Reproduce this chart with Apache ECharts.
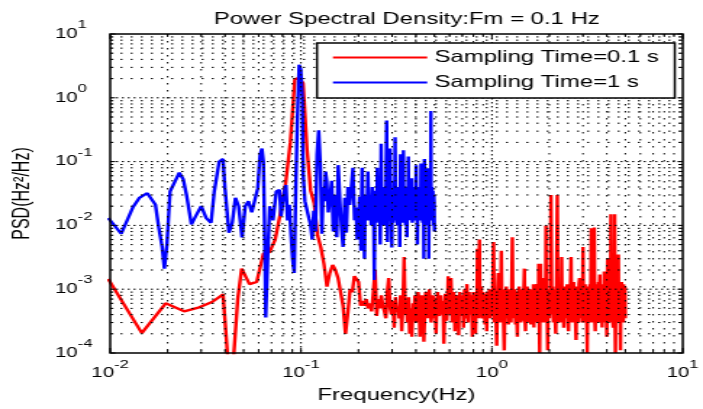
<!DOCTYPE html>
<html><head><meta charset="utf-8">
<script src="https://cdn.jsdelivr.net/npm/echarts@6/dist/echarts.min.js"></script>
<style>
html,body{margin:0;padding:0;background:#fff;overflow:hidden;}
#wrap{width:703px;height:409px;overflow:hidden;position:relative;}
#chart{width:485px;height:409px;transform:scaleX(1.449485);transform-origin:0 0;}
</style></head><body>
<div id="wrap"><div id="chart"></div></div>
<script>
const titleText = 'Power Spectral Density:Fm = 0.1 Hz';
const xName = 'Frequency(Hz)';
const yName = 'PSD(Hz\u00b2/Hz)';
const seriesNames = ['Sampling Time=0.1 s', 'Sampling Time=1 s'];
const xTicks = [0.01, 0.1, 1, 10];
const xTickExp = ['-2', '-1', '0', '1'];
const yTicks = [1e-4, 1e-3, 1e-2, 1e-1, 1, 10];
const yTickExp = ['-4', '-3', '-2', '-1', '0', '1'];
const minorMult = [2, 3, 4, 5, 6, 7, 8, 9];

// Red: sampling time 0.1 s  [frequency Hz, PSD]
const redLow = [[0.00977,1.45e-3],[0.01465,2.05e-4],[0.01953,6e-4],[0.02441,4.5e-4],[0.0293,5.2e-4],[0.03418,6.3e-4],[0.03906,8.3e-4],[0.0415,7e-5],[0.04395,6e-5],[0.0466,7e-4],[0.04883,2.1e-3],[0.05371,1.2e-3],[0.05859,1.3e-3],[0.06348,3.6e-3],[0.06836,3.8e-3],[0.07324,6e-3],[0.07813,1.6e-2],[0.08301,4.5e-2],[0.08789,0.2],[0.09277,1.95],[0.09766,2.05],[0.10254,1.7],[0.10742,0.16],[0.1123,3.5e-2],[0.11719,2.2e-2],[0.12207,7e-3],[0.12695,4.5e-3],[0.13184,2.5e-3],[0.13672,1.1e-3],[0.1416,1.8e-3],[0.14648,2.4e-3],[0.15137,2e-3],[0.15625,1.5e-3],[0.16113,1.4e-3],[0.16602,5.5e-4],[0.1709,2e-4],[0.17578,4.2e-4],[0.18066,1e-3],[0.18555,9e-4],[0.19043,1.6e-3],[0.19531,1.5e-3],[0.2002,1.3e-3],[0.20508,5.5e-4],[0.20996,6.5e-4],[0.21484,5.5e-4],[0.21973,7e-4],[0.22461,5e-4],[0.22949,6e-4],[0.23438,4.5e-4],[0.23926,9e-4],[0.24414,2e-3],[0.24902,3.8e-4],[0.25391,7e-4],[0.25879,5e-4],[0.26367,8e-4],[0.26855,5.5e-4],[0.27344,4.5e-4],[0.27832,3.5e-4],[0.2832,9e-4],[0.28809,1.5e-3],[0.29297,5e-4],[0.29785,4e-4],[0.30273,6.5e-4],[0.30762,2.5e-4],[0.3125,7.5e-4],[0.31738,4.5e-4],[0.32227,5e-4],[0.32715,3.5e-4],[0.33203,8e-4],[0.33691,2.2e-4],[0.3418,5.5e-4],[0.34668,3.2e-3],[0.35156,4e-4],[0.35645,6e-4],[0.36133,3e-4],[0.36621,7.5e-4],[0.37109,2e-4],[0.37598,5e-4],[0.38086,1.8e-4],[0.38574,6e-4],[0.39063,4e-4],[0.39551,8e-4],[0.40039,3e-4]];
const redMid = [[0.41,9e-4],[0.42,1.8e-4],[0.43,8e-4],[0.44,1.5e-4],[0.45,9e-4],[0.46,3.5e-4],[0.47,1e-3],[0.48,3e-4],[0.49,8e-4],[0.5,3.5e-4],[0.51,2e-4],[0.52,9e-4],[0.53,3.8e-4],[0.54,8e-4],[0.55,4e-4],[0.56,1.4e-4],[0.57,8.5e-4],[0.58,3.2e-4],[0.59,1.6e-3],[0.6,4e-4],[0.61,1.5e-3],[0.62,3e-4],[0.63,9e-4],[0.64,2.2e-4],[0.65,8e-4],[0.66,3.5e-4],[0.67,1.9e-4],[0.68,9e-4],[0.69,3.8e-4],[0.7,8e-4],[0.71,2.5e-4],[0.72,1e-3],[0.73,3.5e-4],[0.74,1.2e-3],[0.75,3e-4],[0.76,9e-4],[0.77,4e-4],[0.78,8e-4],[0.79,1.8e-4],[0.8,9e-4],[0.81,3.5e-4],[0.82,2e-4],[0.83,8e-4],[0.84,4.3e-3],[0.85,3.5e-4],[0.86,6e-3],[0.87,4e-4],[0.88,1.1e-3],[0.89,3.5e-4],[0.9,9e-4],[0.91,4e-4],[0.92,2.8e-4],[0.93,8.5e-4],[0.94,2.2e-4],[0.95,9e-4],[0.96,4e-4],[0.97,1e-3],[0.98,3.5e-4],[0.99,8e-4]];
const redMidFill = [[0.405,5e-4],[0.415,7e-4],[0.425,4e-4],[0.435,6e-4],[0.445,4.5e-4],[0.455,7e-4],[0.465,5e-4],[0.475,6.5e-4],[0.485,4e-4],[0.495,7e-4],[0.505,5e-4],[0.515,6e-4],[0.525,4.5e-4],[0.535,7e-4],[0.545,5e-4],[0.555,6.5e-4],[0.565,4e-4],[0.575,7e-4],[0.585,5e-4],[0.595,6e-4],[0.605,4.5e-4],[0.615,7e-4],[0.625,5e-4],[0.635,6.5e-4],[0.645,4e-4],[0.655,7e-4],[0.665,5e-4],[0.675,6e-4],[0.685,4.5e-4],[0.695,7e-4],[0.705,5e-4],[0.715,6.5e-4],[0.725,4e-4],[0.735,7e-4],[0.745,5e-4],[0.755,6e-4],[0.765,4.5e-4],[0.775,7e-4],[0.785,5e-4],[0.795,6.5e-4],[0.805,4e-4],[0.815,7e-4],[0.825,5e-4],[0.835,6e-4],[0.845,4.5e-4],[0.855,7e-4],[0.865,5e-4],[0.875,6.5e-4],[0.885,4e-4],[0.895,7e-4],[0.905,5e-4],[0.915,6e-4],[0.925,4.5e-4],[0.935,7e-4],[0.945,5e-4],[0.955,6.5e-4],[0.965,4e-4],[0.975,7e-4],[0.985,5e-4],[0.995,6e-4]];
const redHigh1 = [[1.0,3.8e-4],[1.01,9e-4],[1.02,5.5e-3],[1.03,3e-4],[1.04,8e-4],[1.05,4e-4],[1.06,1.3e-4],[1.07,9e-4],[1.08,1.8e-3],[1.09,3.5e-4],[1.1,8.5e-4],[1.11,3e-4],[1.12,4e-3],[1.13,4e-4],[1.14,1e-3],[1.15,3.5e-4],[1.16,1.1e-4],[1.17,8e-4],[1.18,4e-4],[1.19,1.1e-3],[1.2,3.5e-4],[1.21,8e-4],[1.22,2.8e-4],[1.23,1e-3],[1.24,4e-4],[1.25,9e-4],[1.26,3e-4],[1.27,1.1e-3],[1.28,6.5e-3],[1.29,3.5e-4],[1.3,9e-4],[1.31,4e-4],[1.32,1e-3],[1.33,2.8e-4],[1.34,8e-4],[1.35,3.5e-4],[1.36,1.8e-4],[1.37,9e-4],[1.38,4e-4],[1.39,1.1e-3],[1.4,3.5e-4],[1.41,8.5e-4],[1.42,3e-4],[1.43,1e-3],[1.44,4e-4],[1.45,9e-4],[1.46,3.2e-4],[1.47,1e-3],[1.48,2.1e-3],[1.49,3.5e-4],[1.5,2.2e-4],[1.51,9e-4],[1.52,4e-4],[1.53,1.1e-3],[1.54,3.5e-4],[1.55,9e-4],[1.56,3e-4],[1.57,1e-3],[1.58,4e-4],[1.59,8.5e-4],[1.6,2.8e-4],[1.61,1e-3],[1.62,3.5e-4],[1.63,9e-4],[1.64,4e-4],[1.65,1.2e-3],[1.66,2.5e-4],[1.67,9e-4],[1.68,3.8e-4],[1.69,1e-3],[1.7,3e-4],[1.71,8.5e-4],[1.72,1.2e-3],[1.73,3.5e-4],[1.74,9e-4],[1.75,3e-4],[1.76,2.5e-3],[1.77,4e-4],[1.78,1e-4],[1.79,9e-4],[1.8,2.5e-3],[1.81,3.5e-4],[1.82,1e-3],[1.83,4e-4],[1.84,9e-4],[1.85,3e-4],[1.86,1.1e-3],[1.87,3.5e-4],[1.88,1.5e-3],[1.89,4e-4],[1.9,9e-4],[1.91,3e-4],[1.92,1e-2],[1.93,3.5e-4],[1.94,1e-3],[1.95,4e-4],[1.96,1.1e-4],[1.97,9e-4],[1.98,3.5e-4],[1.99,1e-3]];
const redHigh2 = [[2.0,3.5e-4],[2.02,1e-3],[2.04,3e-2],[2.06,4e-4],[2.08,1.1e-3],[2.1,3e-4],[2.12,1e-3],[2.14,4e-4],[2.16,2e-4],[2.18,1.1e-3],[2.2,3e-2],[2.22,3.5e-4],[2.24,1e-3],[2.26,3e-4],[2.28,1.1e-3],[2.3,4e-4],[2.32,3.2e-3],[2.34,3e-4],[2.36,1e-3],[2.38,2.5e-4],[2.4,1.1e-3],[2.42,3.5e-4],[2.44,1e-3],[2.46,4e-4],[2.48,1.2e-3],[2.5,3e-4],[2.52,2.2e-4],[2.54,1e-3],[2.56,3.5e-4],[2.58,1.1e-3],[2.6,3.2e-3],[2.62,3e-4],[2.64,1e-3],[2.66,4e-4],[2.68,1.3e-3],[2.7,3e-4],[2.72,1e-3],[2.74,3.5e-4],[2.76,1.6e-4],[2.78,1.1e-3],[2.8,4e-4],[2.82,1e-3],[2.84,3e-4],[2.86,1.2e-3],[2.88,1.5e-3],[2.9,3.5e-4],[2.92,1e-3],[2.94,4e-4],[2.96,1.1e-3],[2.98,3e-4],[3.0,4.6e-3],[3.02,3.5e-4],[3.04,1.1e-3],[3.06,3e-4],[3.08,1.2e-3],[3.1,4e-4],[3.12,1e-3],[3.14,3e-4],[3.16,1e-4],[3.18,1.1e-3],[3.2,3.5e-4],[3.22,1e-3],[3.24,4e-4],[3.26,1.2e-3],[3.28,3e-4],[3.3,1.1e-3],[3.32,9e-3],[3.34,3.5e-4],[3.36,1e-3],[3.38,3e-4],[3.4,1.1e-3],[3.42,4e-4],[3.44,9.3e-3],[3.46,3.5e-4],[3.48,2.2e-4],[3.5,1.1e-3],[3.52,4e-4],[3.54,1e-3],[3.56,3e-4],[3.58,1.2e-3],[3.6,3.5e-4],[3.62,1.3e-3],[3.64,4e-4],[3.66,1e-3],[3.68,1.7e-3],[3.7,3e-4],[3.72,1.1e-3],[3.74,3.5e-4],[3.76,1.2e-3],[3.78,2.5e-4],[3.8,1e-3],[3.82,4e-4],[3.84,1.1e-3],[3.86,3e-4],[3.88,1.9e-3],[3.9,3.5e-4],[3.92,1e-3],[3.94,3e-4],[3.96,1.1e-3],[3.98,4e-4],[4.0,1.8e-4],[4.02,1.1e-3],[4.04,3e-3],[4.06,3.5e-4],[4.08,1e-3],[4.1,3e-4],[4.12,1.2e-3],[4.14,4e-4],[4.16,1e-3],[4.18,3e-4],[4.2,1.5e-2],[4.22,3.5e-4],[4.24,1e-3],[4.26,4e-4],[4.28,1.2e-3],[4.3,3e-4],[4.32,2.5e-4],[4.34,1.1e-3],[4.36,4e-4],[4.38,1.2e-3],[4.4,1.5e-2],[4.42,3.5e-4],[4.44,1e-4],[4.46,1.1e-3],[4.48,3.5e-4],[4.5,1e-3],[4.52,3e-4],[4.54,1.2e-3],[4.56,4e-4],[4.58,1.1e-3],[4.6,3.5e-3],[4.62,3e-4],[4.64,1e-3],[4.66,3.5e-4],[4.68,1.2e-3],[4.7,4e-4],[4.72,1.1e-4],[4.74,1e-3],[4.76,3.5e-4],[4.78,1.3e-3],[4.8,3e-4],[4.82,1.1e-3],[4.84,4e-4],[4.86,1e-3],[4.88,3e-4],[4.9,1.2e-3],[4.92,3.5e-4],[4.94,1e-3],[4.96,4e-4],[4.98,1.1e-3],[5.0,3.5e-4]];

// Blue: sampling time 1 s  [frequency Hz, PSD]
const blueLow = [[0.00977,1.3e-2],[0.01143,7.4e-3],[0.01313,1.9e-2],[0.0142,2.7e-2],[0.01566,3.2e-2],[0.01727,2.1e-2],[0.01797,9.2e-3],[0.01871,4.6e-3],[0.01923,2.1e-3],[0.01984,5.1e-3],[0.0206,3.4e-2],[0.02187,4.9e-2],[0.02303,6.7e-2],[0.02414,5.3e-2],[0.02511,3e-2],[0.02664,1.04e-2],[0.02771,1.3e-2],[0.03,2e-2],[0.03186,1.3e-2],[0.03377,1.1e-2],[0.0351,3.4e-2],[0.03724,0.1],[0.03903,0.11],[0.03997,3.8e-2],[0.0419,7.7e-3],[0.04362,1.1e-2],[0.04532,2.7e-2],[0.0471,2e-2],[0.04906,6.5e-3],[0.05101,2e-2],[0.05304,2.4e-2],[0.0552,1.6e-2],[0.05675,1.6e-2],[0.05931,3.8e-2],[0.06096,0.126],[0.06238,0.16],[0.0635,0.1],[0.0646,6e-3],[0.0653,3.6e-4],[0.06717,4.6e-3],[0.0685,2e-2],[0.0713,1.2e-2],[0.0742,3.4e-2],[0.0771,3.6e-2],[0.0786,1.4e-2],[0.0818,3.4e-2],[0.0834,4.3e-2],[0.085,1.2e-2],[0.0868,2.1e-2],[0.0885,7.4e-3],[0.0903,3e-3],[0.0921,1.8e-3],[0.094,5e-2],[0.0958,0.52],[0.0977,3.3],[0.0997,2.8]];
const blueMid = [[0.1016,0.95],[0.1027,6.2e-2],[0.1048,2.4e-2],[0.1077,1.7e-2],[0.1099,1.3e-2],[0.1121,1.04e-2],[0.1145,6e-3],[0.1166,1.7e-2],[0.119,8e-3],[0.1213,0.13],[0.1237,0.31],[0.1262,8.8e-2],[0.1286,7.4e-3],[0.1307,4e-2],[0.1327,2.4e-2],[0.1345,7e-2],[0.1364,5e-2],[0.139,1.6e-2],[0.142,1.5e-2],[0.1447,5e-2],[0.1476,8e-3],[0.1517,3e-2],[0.1539,6.5e-3],[0.1566,8.8e-2],[0.1598,2.4e-2],[0.1628,9.2e-3],[0.1661,4.6e-3],[0.1695,2.7e-2],[0.1727,7.7e-3],[0.176,4e-2],[0.1798,2.1e-2],[0.1833,3.8e-2],[0.187,8e-2],[0.1908,1.2e-2],[0.1944,1.9e-2],[0.197,6e-3]];
const blueHigh = [[0.2,1e-2],[0.203,2.8e-2],[0.206,4e-3],[0.209,8e-2],[0.212,1.3e-2],[0.215,3e-3],[0.218,3e-2],[0.221,1.2e-2],[0.224,7e-2],[0.227,1.4e-2],[0.23,3e-2],[0.233,1e-2],[0.236,4e-2],[0.239,1.2e-2],[0.242,1.4e-3],[0.245,3.5e-2],[0.248,1.1e-2],[0.251,8e-2],[0.254,1.5e-2],[0.257,3e-2],[0.26,5e-3],[0.263,0.19],[0.266,1.2e-2],[0.269,3.5e-2],[0.272,1e-2],[0.275,4e-2],[0.278,1.3e-2],[0.281,0.44],[0.284,5.5e-3],[0.287,3e-2],[0.29,1.2e-2],[0.293,0.16],[0.296,1.4e-2],[0.299,4.5e-3],[0.302,3.5e-2],[0.305,1.1e-2],[0.308,5e-2],[0.311,0.24],[0.314,1.5e-2],[0.317,3.5e-2],[0.32,1e-2],[0.323,4e-2],[0.326,1.3e-2],[0.329,4.6e-3],[0.332,0.13],[0.335,1.2e-2],[0.338,3.5e-2],[0.341,1.1e-2],[0.344,0.15],[0.347,1.4e-2],[0.35,3.5e-2],[0.353,1e-2],[0.356,4e-2],[0.359,6.5e-3],[0.362,3e-2],[0.365,0.12],[0.368,1.2e-2],[0.371,3.5e-2],[0.374,1.3e-2],[0.377,4e-2],[0.38,5.5e-2],[0.383,1.1e-2],[0.386,3.5e-2],[0.389,1.4e-2],[0.392,4e-2],[0.395,1.2e-2],[0.398,3.5e-2],[0.401,8.8e-2],[0.404,1.2e-2],[0.407,5e-3],[0.41,3.5e-2],[0.413,1.3e-2],[0.416,4e-2],[0.419,1.2e-2],[0.422,3.5e-2],[0.425,9.3e-2],[0.428,1.4e-2],[0.431,3.8e-2],[0.434,1.1e-2],[0.437,4e-2],[0.44,3e-3],[0.443,0.11],[0.446,1.3e-2],[0.449,4e-2],[0.452,1.2e-2],[0.455,3.5e-2],[0.458,1e-2],[0.461,7.9e-2],[0.464,1.3e-2],[0.467,3e-3],[0.47,4e-2],[0.473,1.2e-2],[0.476,4e-2],[0.479,0.62],[0.482,1.5e-2],[0.485,4e-2],[0.488,1.2e-2],[0.491,3.5e-2],[0.494,1e-2],[0.497,3e-2],[0.5,8e-3]];
const blueFill = [[0.2015,1.8e-2],[0.2045,1.5e-2],[0.2075,2.2e-2],[0.2105,3e-2],[0.2135,1.1e-2],[0.2165,2e-2],[0.2195,1.6e-2],[0.2225,2.5e-2],[0.2255,3.2e-2],[0.2285,1.2e-2],[0.2315,2.2e-2],[0.2345,1.8e-2],[0.2375,2.6e-2],[0.2405,1e-2],[0.2435,2e-2],[0.2465,2.4e-2],[0.2495,1.5e-2],[0.2525,3e-2],[0.2555,1.2e-2],[0.2585,2.2e-2],[0.2615,1.6e-2],[0.2645,2.8e-2],[0.2675,1.4e-2],[0.2705,2.4e-2],[0.2735,1.8e-2],[0.2765,2.2e-2],[0.2795,1.3e-2],[0.2825,2.6e-2],[0.2855,1.5e-2],[0.2885,2.3e-2],[0.2915,1.9e-2],[0.2945,3e-2],[0.2975,1.3e-2],[0.3005,2.2e-2],[0.3035,1.7e-2],[0.3065,2.6e-2],[0.3095,1.4e-2],[0.3125,2.8e-2],[0.3155,1.2e-2],[0.3185,2.2e-2],[0.3215,1.8e-2],[0.3245,2.5e-2],[0.3275,1.2e-2],[0.3305,2.2e-2],[0.3335,3e-2],[0.3365,1.5e-2],[0.3395,2.4e-2],[0.3425,1.8e-2],[0.3455,2.6e-2],[0.3485,1.3e-2],[0.3515,2.2e-2],[0.3545,1.8e-2],[0.3575,2.6e-2],[0.3605,1.4e-2],[0.3635,2.2e-2],[0.3665,1.8e-2],[0.3695,2.5e-2],[0.3725,1.5e-2],[0.3755,2.3e-2],[0.3785,1.9e-2],[0.3815,2.8e-2],[0.3845,1.4e-2],[0.3875,2.2e-2],[0.3905,1.7e-2],[0.3935,2.6e-2],[0.3965,1.5e-2],[0.3995,2.2e-2],[0.4025,1.8e-2],[0.4055,2.6e-2],[0.4085,1.4e-2],[0.4115,2.2e-2],[0.4145,1.8e-2],[0.4175,2.5e-2],[0.4205,1.5e-2],[0.4235,2.2e-2],[0.4265,2.8e-2],[0.4295,1.6e-2],[0.4325,2.4e-2],[0.4355,1.8e-2],[0.4385,2.5e-2],[0.4415,1.4e-2],[0.4445,2.2e-2],[0.4475,1.8e-2],[0.4505,2.6e-2],[0.4535,1.5e-2],[0.4565,2.3e-2],[0.4595,1.8e-2],[0.4625,2.6e-2],[0.4655,1.4e-2],[0.4685,2.2e-2],[0.4715,1.9e-2],[0.4745,2.6e-2],[0.4775,1.5e-2],[0.4805,2.2e-2],[0.4835,1.8e-2],[0.4865,2.5e-2],[0.4895,1.4e-2],[0.4925,2.2e-2],[0.4955,1.8e-2],[0.4985,2.4e-2]];

function byFreq(a, b) { return a[0] - b[0]; }
const redData = redLow.concat(redMid, redMidFill, redHigh1, redHigh2).sort(byFreq);
const blueData = blueLow.concat(blueMid, blueHigh, blueFill).sort(byFreq);

const FONT = "'Liberation Sans', Arial, Helvetica, sans-serif";

// grid line / tick positions derived from the decade ticks
const gridItems = [];
xTicks.forEach(function (d, i) {
  gridItems.push([d, 1, 0, 1]);
  if (i < xTicks.length - 1) minorMult.forEach(function (m) { gridItems.push([d * m, 1, 0, 0]); });
});
yTicks.forEach(function (d, i) {
  gridItems.push([0.1, d, 1, 1]);
  if (i < yTicks.length - 1) minorMult.forEach(function (m) { gridItems.push([0.1, d * m, 1, 0]); });
});

function expLabel(ticks, exps) {
  return function (v) {
    const lv = Math.log10(v);
    for (let i = 0; i < ticks.length; i++) {
      if (Math.abs(Math.log10(ticks[i]) - lv) < 1e-6) return '{b|10}{s|' + exps[i] + '}';
    }
    return '';
  };
}
const richLabel = {
  b: { fontSize: 14, lineHeight: 14, fontFamily: FONT, color: '#000', verticalAlign: 'bottom' },
  s: { fontSize: 11.5, lineHeight: 12, fontFamily: FONT, color: '#000', verticalAlign: 'bottom', padding: [0, 0, 10, 0] }
};

function renderGrid(params, api) {
  const cs = params.coordSys;
  const kind = api.value(2), major = api.value(3);
  const x0 = cs.x, y0 = cs.y, x1 = cs.x + cs.width, y1 = cs.y + cs.height;
  const dash = major ? [1.5, 2.5] : [1.5, 5.5];
  const children = [];
  const tickStyle = { stroke: '#000', lineWidth: 1 };
  const gridStyle = { stroke: '#000', lineWidth: 1, lineDash: dash };
  const pt = api.coord([api.value(0), api.value(1)]);
  if (kind === 0) {
    const p = pt[0];
    const tl = major ? 5 : 3;
    if (p > x0 + 1 && p < x1 - 1) {
      children.push({ type: 'line', shape: { x1: p, y1: y0, x2: p, y2: y1 }, style: gridStyle });
    }
    children.push({ type: 'line', shape: { x1: p, y1: y1, x2: p, y2: y1 - tl }, style: tickStyle });
    children.push({ type: 'line', shape: { x1: p, y1: y0, x2: p, y2: y0 + tl }, style: tickStyle });
  } else {
    const p = pt[1];
    const tl = major ? 3.6 : 2.2;
    if (p > y0 + 1 && p < y1 - 1) {
      children.push({ type: 'line', shape: { x1: x0, y1: p, x2: x1, y2: p }, style: gridStyle });
    }
    children.push({ type: 'line', shape: { x1: x0, y1: p, x2: x0 + tl, y2: p }, style: tickStyle });
    children.push({ type: 'line', shape: { x1: x1, y1: p, x2: x1 - tl, y2: p }, style: tickStyle });
  }
  return { type: 'group', children: children };
}

const chart = echarts.init(document.getElementById('chart'), null, { renderer: 'canvas' });
chart.setOption({
  animation: false,
  backgroundColor: '#fff',
  title: {
    text: titleText, left: 275.6, top: 6, textAlign: 'center',
    textStyle: { fontSize: 16.5, fontWeight: 'normal', color: '#000', fontFamily: FONT }
  },
  legend: {
    data: seriesNames, orient: 'vertical', left: 218.7, top: 43,
    itemWidth: 65, itemHeight: 2, itemGap: 8, icon: 'rect',
    padding: [6, 11, 7, 11], borderColor: '#000', borderWidth: 1.5, backgroundColor: '#fff',
    textStyle: { fontSize: 16.5, color: '#000', fontFamily: FONT },
    selectedMode: false, z: 10
  },
  grid: { left: 73.8, top: 34, right: 7.6, bottom: 52, show: true, borderColor: '#000', borderWidth: 1.5, backgroundColor: 'transparent', z: 6 },
  xAxis: {
    type: 'log', logBase: 10, min: 0.01, max: 10,
    name: xName, nameLocation: 'middle', nameGap: 34,
    nameTextStyle: { fontSize: 16.5, color: '#000', fontFamily: FONT },
    axisLine: { show: false }, axisTick: { show: false }, splitLine: { show: false },
    axisLabel: { margin: 13.5, formatter: expLabel(xTicks, xTickExp), rich: richLabel, showMinLabel: true, showMaxLabel: true }
  },
  yAxis: {
    type: 'log', logBase: 10, min: 1e-4, max: 10,
    name: yName, nameLocation: 'middle', nameGap: 52,
    nameTextStyle: { fontSize: 16, color: '#000', fontFamily: FONT },
    axisLine: { show: false }, axisTick: { show: false }, splitLine: { show: false },
    axisLabel: { margin: 38, align: 'left', formatter: expLabel(yTicks, yTickExp), rich: richLabel, showMinLabel: true, showMaxLabel: true }
  },
  series: [
    { name: seriesNames[0], type: 'line', data: redData, showSymbol: false, symbol: 'none', color: '#ff0000',
      lineStyle: { color: '#ff0000', width: 2.4 }, z: 2, clip: true },
    { name: seriesNames[1], type: 'line', data: blueData, showSymbol: false, symbol: 'none', color: '#0000ff',
      lineStyle: { color: '#0000ff', width: 2.4 }, z: 2, clip: true },
    { type: 'custom', renderItem: renderGrid, data: gridItems, z: 3, silent: true, clip: false,
      encode: { x: 0, y: 1 } }
  ]
});
</script>
</body></html>
